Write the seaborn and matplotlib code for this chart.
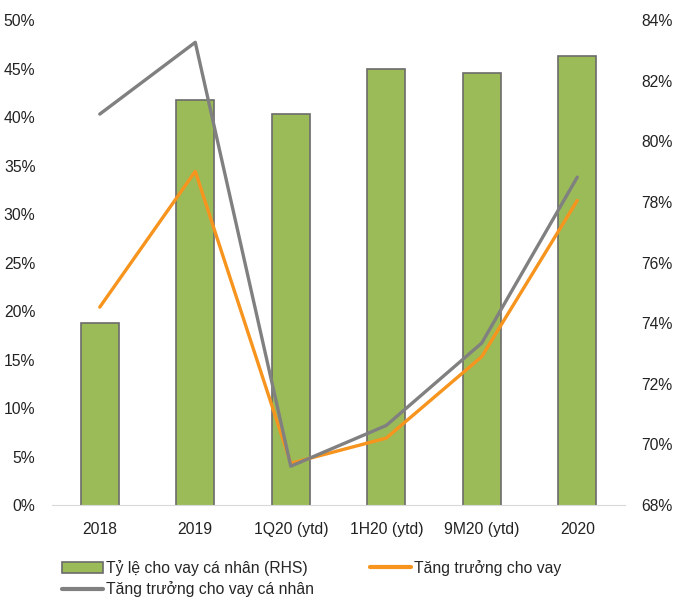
import numpy as np
import pandas as pd
import matplotlib
matplotlib.use("Agg")
import matplotlib.pyplot as plt
from matplotlib.patches import Patch
from matplotlib.lines import Line2D
from matplotlib.ticker import FuncFormatter
import seaborn as sns

categories = ["2018", "2019", "1Q20 (ytd)", "1H20 (ytd)", "9M20 (ytd)", "2020"]
ty_le_ca_nhan = [74.0, 81.35, 80.9, 82.4, 82.25, 82.8]          # RHS, bars
tang_truong_cho_vay = [20.4, 34.4, 4.3, 6.9, 15.3, 31.4]         # LHS
tang_truong_ca_nhan = [40.3, 47.7, 4.0, 8.2, 16.7, 33.8]          # LHS

GREEN = "#9bbb59"
ORANGE = "#f7941d"
GREY = "#808080"
FS = 11.3

sns.set_style("white")
plt.rcParams["font.family"] = ["Liberation Sans", "DejaVu Sans"]
plt.rcParams["font.size"] = FS

df = pd.DataFrame({
    "cat": categories,
    "bars": ty_le_ca_nhan,
    "loan": tang_truong_cho_vay,
    "retail": tang_truong_ca_nhan,
})

fig = plt.figure(figsize=(6.73, 6.01), dpi=100)
ax = fig.add_axes([0.0773, 0.1597, 0.8514, 0.807])

# bars on the right-hand scale
sns.barplot(data=df, x="cat", y="bars", color=GREEN, width=0.4,
            edgecolor="#6b6b6b", linewidth=1.2, saturation=1, ax=ax)
ax.set_ylim(68, 84)
ax.set_yticks(np.arange(68, 85, 2))

# lines on the left-hand scale
ax2 = ax.twinx()
sns.lineplot(data=df, x="cat", y="loan", color=ORANGE, linewidth=2.4,
             sort=False, ax=ax2)
sns.lineplot(data=df, x="cat", y="retail", color=GREY, linewidth=2.4,
             sort=False, ax=ax2)
ax2.set_ylim(0, 50)
ax2.set_yticks(np.arange(0, 51, 5))

# swap sides (twinx resets the original axis to the left)
ax.yaxis.tick_right()
ax2.yaxis.tick_left()
pct = FuncFormatter(lambda v, p: f"{v:.0f}%")
ax.yaxis.set_major_formatter(pct)
ax2.yaxis.set_major_formatter(pct)

for a in (ax, ax2):
    a.set_xlabel("")
    a.set_ylabel("")
    for s in ("top", "left", "right"):
        a.spines[s].set_visible(False)
    a.spines["bottom"].set_color("#d9d9d9")
    a.tick_params(length=0, labelsize=FS, colors="#222222", pad=12)
ax2.spines["bottom"].set_visible(False)
ax.set_xlim(-0.5, 5.5)
ax.tick_params(axis="x", pad=12)

handles = [
    Patch(facecolor=GREEN, edgecolor="#6b6b6b", linewidth=1.2),
    Line2D([], [], color=ORANGE, linewidth=3),
    Line2D([], [], color=GREY, linewidth=3),
]
labels = ["Tỷ lệ cho vay cá nhân (RHS)", "Tăng trưởng cho vay",
          "Tăng trưởng cho vay cá nhân"]
order = [0, 2, 1]
fig.legend([handles[i] for i in order], [labels[i] for i in order],
           ncol=2, loc="upper left", bbox_to_anchor=(0.071, 0.092),
           frameon=False, fontsize=FS, handlelength=2.6, handletextpad=0.2,
           columnspacing=3.6, labelspacing=0.36)

fig.savefig("out.png", dpi=100)
